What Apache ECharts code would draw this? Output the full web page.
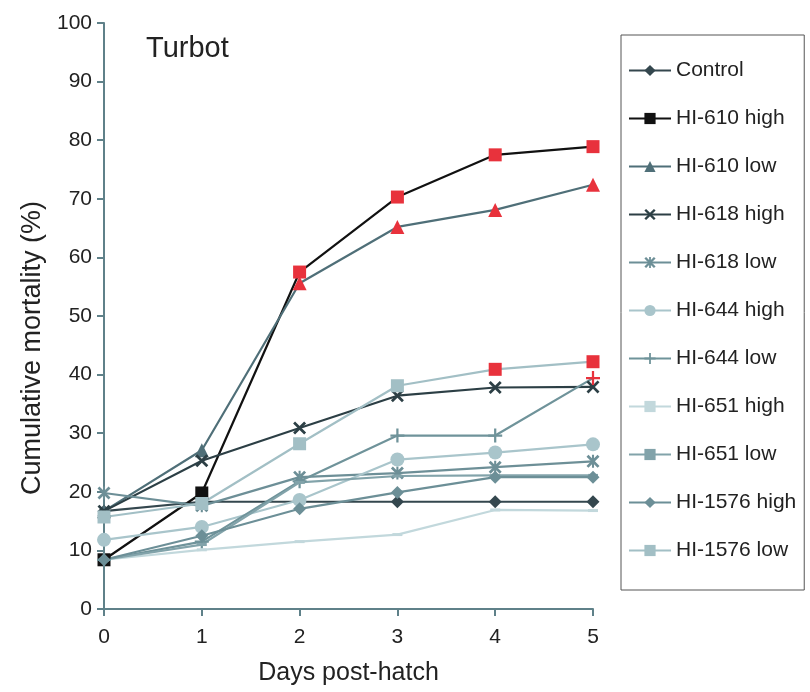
<!DOCTYPE html>
<html>
<head>
    <meta charset="utf-8">
    <title>Turbot</title>
    <script src="https://cdn.jsdelivr.net/npm/echarts@6/dist/echarts.min.js"></script>
</head>
<body style="margin:0;background:#fff;">
    <div id="main" style="width: 810px;height:692px;"></div>
    <script type="text/javascript">
        var days = [0, 1, 2, 3, 4, 5];
        var names = ['Control', 'HI-610 high', 'HI-610 low', 'HI-618 high', 'HI-618 low', 'HI-644 high',
                     'HI-644 low', 'HI-651 high', 'HI-651 low', 'HI-1576 high', 'HI-1576 low'];
        var control    = [16.7, 18.3, 18.3, 18.3, 18.3, 18.3];
        var hi610High  = [8.4, 19.8, 57.5, 70.3, 77.5, 78.9];
        var hi610Low   = [16.7, 27.1, 55.6, 65.2, 68.1, 72.4];
        var hi618High  = [16.7, 25.3, 30.9, 36.4, 37.8, 37.9];
        var hi618Low   = [19.8, 17.6, 22.5, 23.2, 24.2, 25.2];
        var hi644High  = [11.8, 14.0, 18.6, 25.5, 26.7, 28.1];
        var hi644Low   = [8.4, 11.5, 21.8, 29.6, 29.6, 39.4];
        var hi651High  = [8.4, 10.1, 11.5, 12.7, 16.9, 16.8];
        var hi651Low   = [8.4, 11.0, 21.6, 22.7, 22.8, 22.8];
        var hi1576High = [8.4, 12.5, 17.1, 19.9, 22.5, 22.5];
        var hi1576Low  = [15.7, 18.0, 28.2, 38.1, 40.9, 42.2];
        // days with a significant difference (red marker)
        var signif = {
            'HI-610 high': [2, 3, 4, 5],
            'HI-610 low': [2, 3, 4, 5],
            'HI-644 low': [5],
            'HI-1576 low': [4, 5]
        };

        var xPath = 'path://M0,1.5L1.5,0L5,3.5L8.5,0L10,1.5L6.5,5L10,8.5L8.5,10L5,6.5L1.5,10L0,8.5L3.5,5Z';
        var starPath = 'path://M0,1.5L1.5,0L4.2,2.7V0H5.8V2.7L8.5,0L10,1.5L6.5,5L10,8.5L8.5,10L5.8,7.3V10H4.2V7.3L1.5,10L0,8.5L3.5,5Z';
        var plusPath = 'path://M4.2,0H5.8V4.2H10V5.8H5.8V10H4.2V5.8H0V4.2H4.2Z';

        var seriesDefs = [
            {name: names[0], values: control, color: '#34474e', symbol: 'diamond', size: 13},
            {name: names[1], values: hi610High, color: '#111111', symbol: 'rect', size: 13},
            {name: names[2], values: hi610Low, color: '#4f6f78', symbol: 'triangle', size: 14},
            {name: names[3], values: hi618High, color: '#2c3f45', symbol: xPath, size: 13},
            {name: names[4], values: hi618Low, color: '#6d8f97', symbol: starPath, size: 13},
            {name: names[5], values: hi644High, color: '#a9c5cb', symbol: 'circle', size: 14},
            {name: names[6], values: hi644Low, color: '#6f939a', symbol: plusPath, size: 14},
            {name: names[7], values: hi651High, color: '#c2d8dc', symbol: 'rect', size: [10, 3]},
            {name: names[8], values: hi651Low, color: '#82a3aa', symbol: 'rect', size: [10, 3]},
            {name: names[9], values: hi1576High, color: '#6c8f97', symbol: 'diamond', size: 13},
            {name: names[10], values: hi1576Low, color: '#a2bfc5', symbol: 'rect', size: 13}
        ];

        var series = seriesDefs.map(function (d) {
            var red = signif[d.name] || [];
            return {
                name: d.name,
                type: 'line',
                symbol: d.symbol,
                symbolSize: d.size,
                showAllSymbol: true,
                lineStyle: {color: d.color, width: 2.2},
                itemStyle: {color: d.color},
                emphasis: {disabled: true},
                data: days.map(function (x, i) {
                    var p = {value: [x, d.values[i]]};
                    if (red.indexOf(i) >= 0) {
                        p.itemStyle = {color: '#e8323c'};
                    }
                    return p;
                })
            };
        });

        var myChart = echarts.init(document.getElementById('main'));
        var axisColor = '#5f8189';
        var option = {
            animation: false,
            backgroundColor: '#fff',
            textStyle: {fontFamily: 'Liberation Sans, Arial, sans-serif'},
            title: {
                text: 'Turbot',
                left: 141,
                top: 29,
                textStyle: {fontSize: 29, fontWeight: 'normal', color: '#222'}
            },
            grid: {left: 104, right: 217, top: 23, bottom: 83},
            legend: {
                orient: 'vertical',
                left: 621,
                top: 35,
                padding: [25, 8, 29, 7],
                itemWidth: 42,
                itemHeight: 14,
                itemGap: 27,
                borderColor: '#555',
                borderWidth: 1,
                textStyle: {fontSize: 21, color: '#222'},
                data: names
            },
            xAxis: {
                type: 'value',
                min: 0,
                max: 5,
                interval: 1,
                name: 'Days post-hatch',
                nameLocation: 'middle',
                nameGap: 52,
                nameTextStyle: {fontSize: 25, color: '#222'},
                axisLine: {lineStyle: {color: axisColor, width: 2}},
                axisTick: {show: true, length: 7, lineStyle: {color: axisColor, width: 2}},
                axisLabel: {fontSize: 21, color: '#222', margin: 18},
                splitLine: {show: false}
            },
            yAxis: {
                type: 'value',
                min: 0,
                max: 100,
                interval: 10,
                name: 'Cumulative mortality (%)',
                nameLocation: 'middle',
                nameGap: 46,
                nameTextStyle: {fontSize: 27, color: '#222', padding: [0, 64, 0, 0]},
                axisLine: {show: true, lineStyle: {color: axisColor, width: 2}},
                axisTick: {show: true, length: 7, lineStyle: {color: axisColor, width: 2}},
                axisLabel: {fontSize: 21, color: '#222', margin: 12},
                splitLine: {show: false}
            },
            series: series
        };
        myChart.setOption(option);
    </script>
</body>
</html>
